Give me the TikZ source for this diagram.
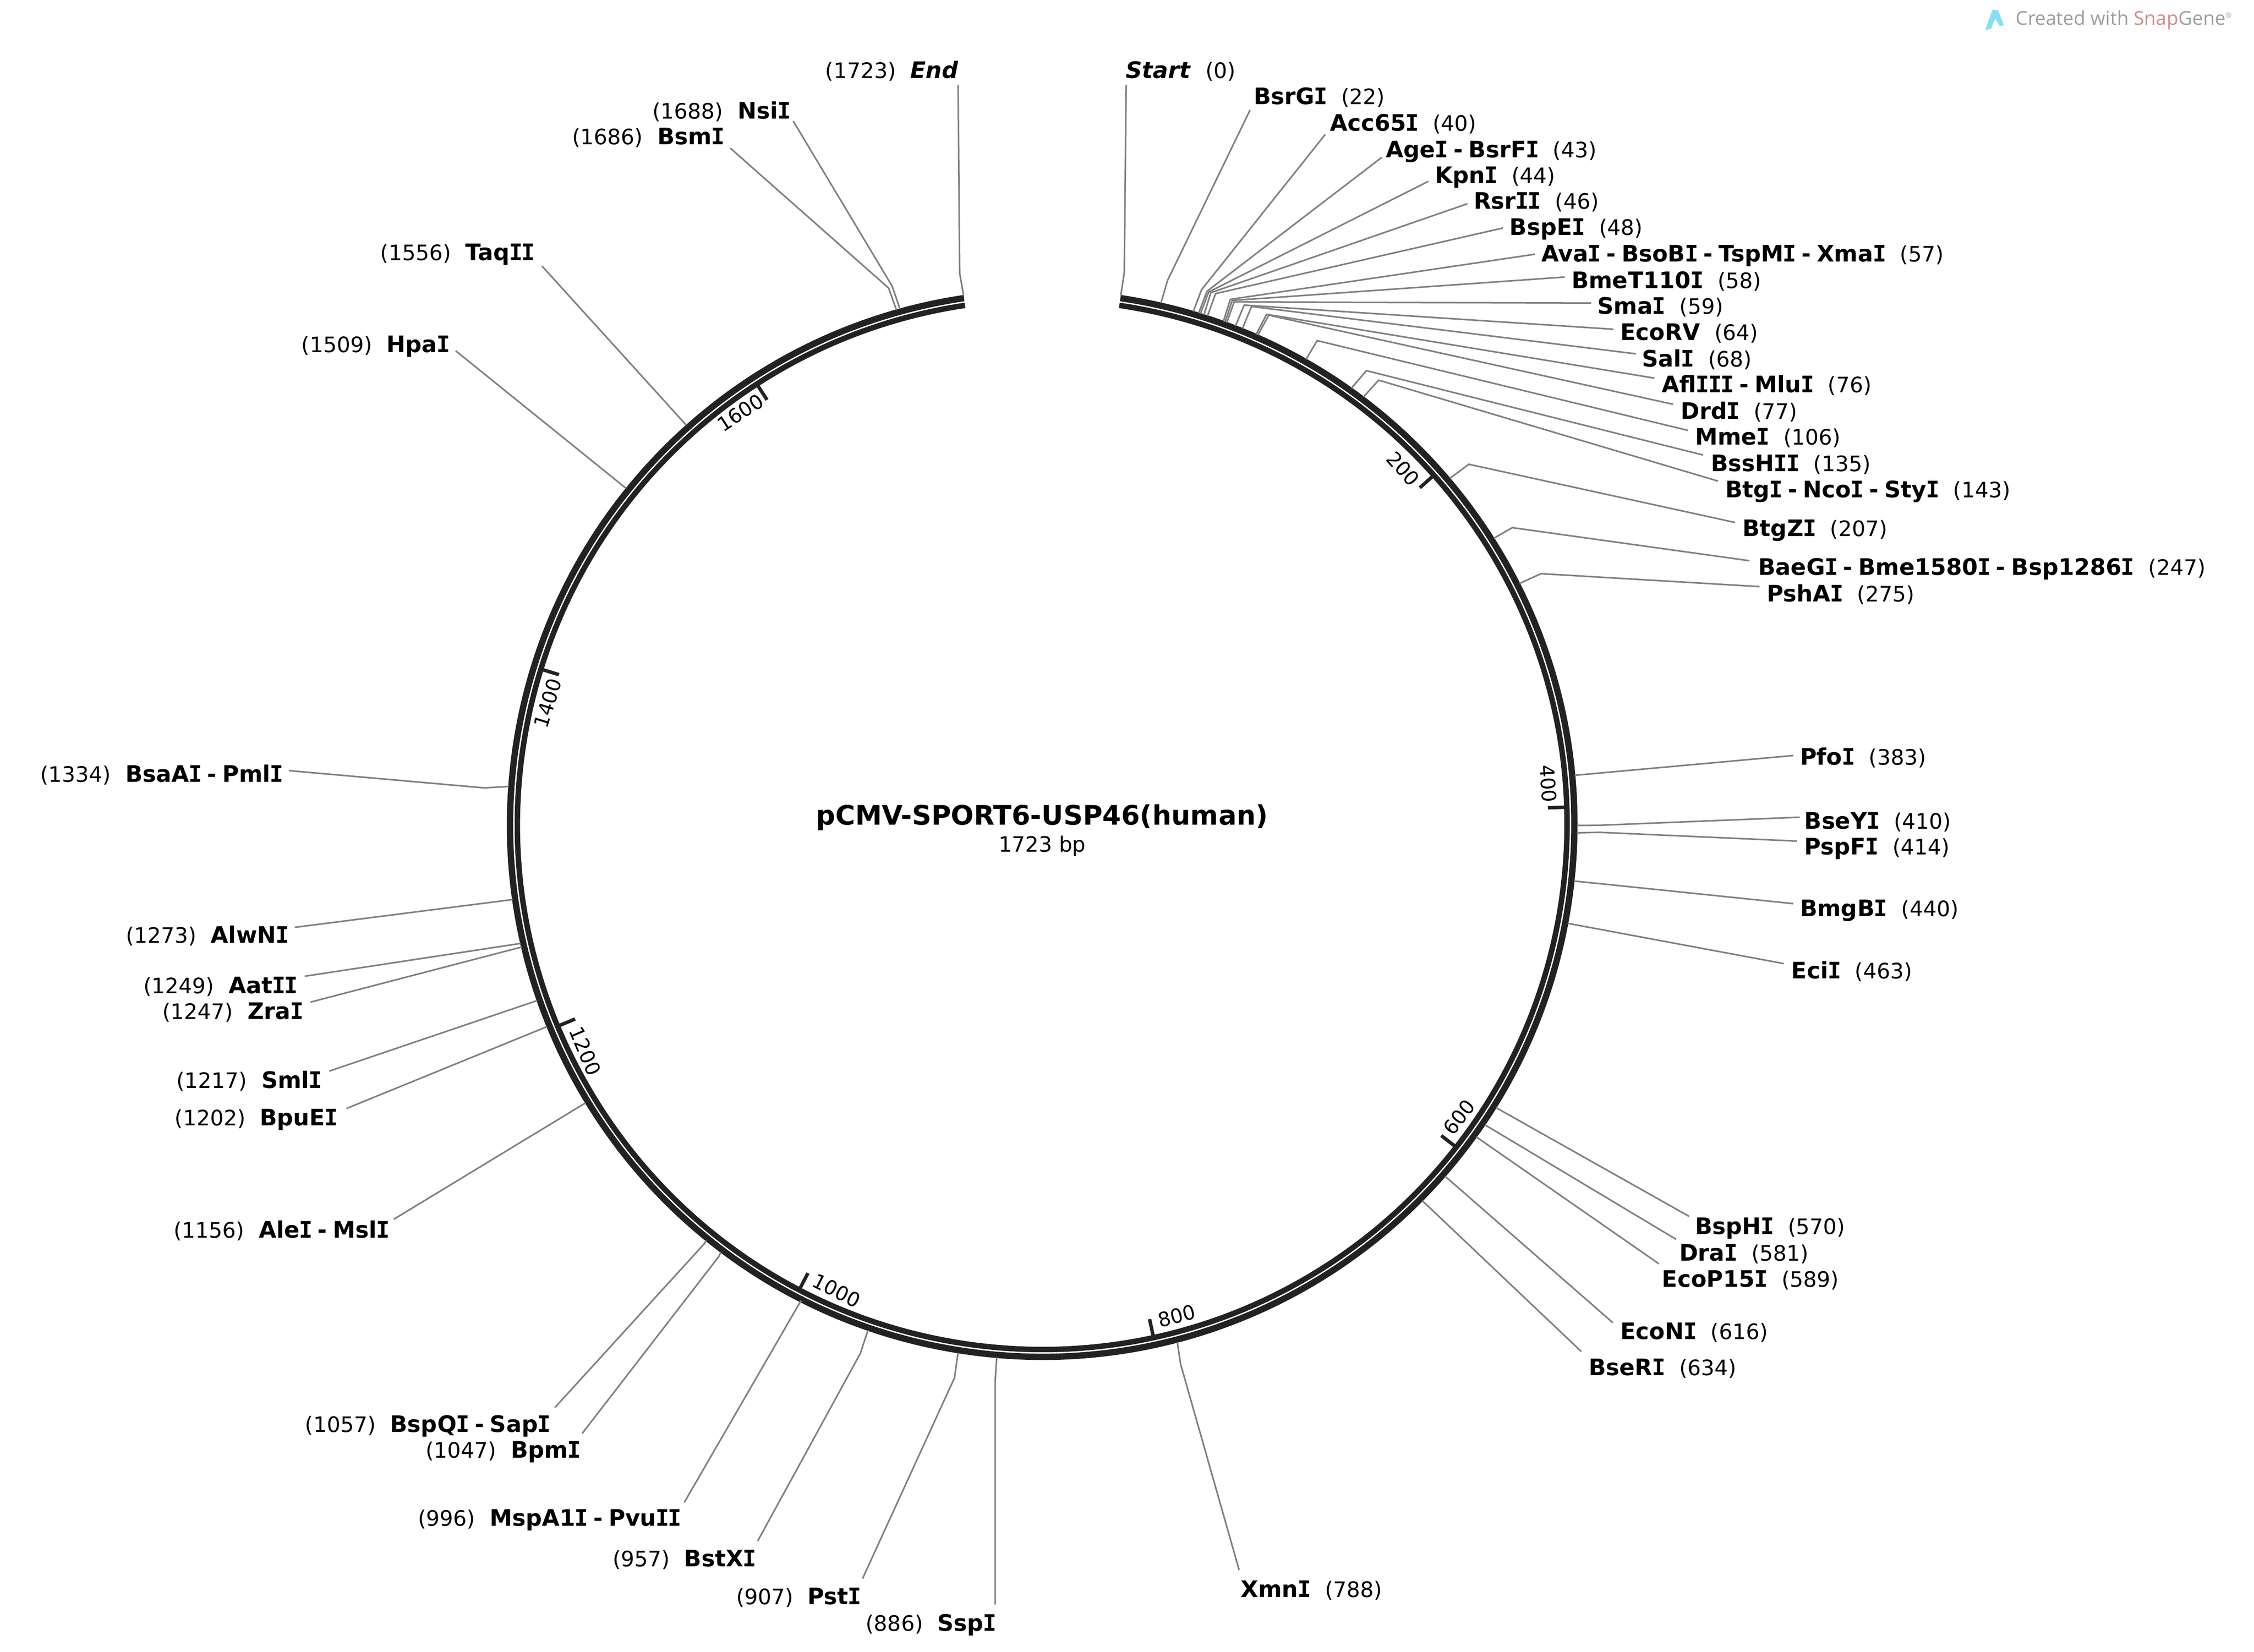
\documentclass[tikz,border=0pt]{standalone}
\usepackage{fontspec}
\setmainfont{DejaVu Sans}
\newfontfamily\wmfont{Open Sans}
\newfontfamily\vIfam{DejaVu Sans Mono}
\newcommand\vI{\kern-0.028em{\vIfam I}\kern-0.028em}
\definecolor{ringc}{HTML}{222222}
\definecolor{leadc}{HTML}{808080}
\definecolor{logoc}{HTML}{86E0F2}
\newcommand\cxv{725}
\newcommand\cyv{573.5}
\newcommand\azero{81.55}
\newcommand\perbp{0.19913}
\newcommand\rlab[2]{{\fontsize{15.8}{18}\selectfont\bfseries\spaceskip=4pt\relax #1}\hspace{10pt}{\fontsize{14.8}{18}\selectfont (#2)}}
\newcommand\llab[2]{{\fontsize{14.8}{18}\selectfont (#1)}\hspace{10pt}{\fontsize{15.8}{18}\selectfont\bfseries\spaceskip=4pt\relax #2}}
\newcommand\enz[7]{%
  \pgfmathsetmacro\enzang{\azero-#3*\perbp}
  \node[lab,anchor=#1] (#2) at #4 {#5};
  \coordinate (#2r) at ({\cxv+372*cos(\enzang)},{\cyv-372*sin(\enzang)});
  \coordinate (#2e) at #6;
  \coordinate (#2f) at #7;
  \draw[lead] (#2r) -- (#2e) -- (#2f);
}
\newcommand\tick[5]{%
  \pgfmathsetmacro\enzang{\azero-#1*\perbp}
  \coordinate (t#1a) at ({\cxv+364*cos(\enzang)},{\cyv-364*sin(\enzang)});
  \coordinate (t#1b) at ({\cxv+352*cos(\enzang)},{\cyv-352*sin(\enzang)});
  \draw[tickl] (t#1a) -- (t#1b);
  \node[tickt,rotate=#5] (n#1) at (#3,#4) {#2};
}
\tikzset{
  lab/.style={inner sep=0pt,yshift=-5.5pt,text=black},
  lead/.style={draw=leadc,line width=1.1pt,line join=round},
  ringo/.style={draw=ringc,line width=4.4pt},
  ringi/.style={draw=ringc,line width=3.8pt},
  tickl/.style={draw=ringc,line width=2.4pt},
  tickt/.style={inner sep=0pt,font=\fontsize{13.8}{16}\selectfont,text=black}
}
\begin{document}
\begin{tikzpicture}[x=1pt,y=-1pt]
\useasboundingbox (0,0) rectangle (1568,1149);
\fill[white] (0,0) rectangle (1568,1149);
% ring
\pgfmathsetmacro\azend{\azero-1723*\perbp}
\draw[ringo] ({\cxv+370.2*cos(\azero)},{\cyv-370.2*sin(\azero)}) arc[start angle=\azero,end angle=\azend,radius=370.2pt];
\draw[ringi] ({\cxv+365.1*cos(\azero)},{\cyv-365.1*sin(\azero)}) arc[start angle=\azero,end angle=\azend,radius=365.1pt];
% centre
\node[inner sep=0pt,font=\fontsize{18.7}{20}\selectfont\bfseries] (title) at (725,568.5) {pCMV-SPORT6-USP46(human)};
\node[inner sep=0pt,font=\fontsize{14.7}{16}\selectfont] (size) at (725,588.5) {1723 bp};
% ticks
\tick{200}{200}{976}{326}{-48}
\tick{400}{400}{1077}{545}{-86}
\tick{600}{600}{1015}{777}{52}
\tick{800}{800}{818.5}{915.3}{14}
\tick{1000}{1000}{582}{897.6}{-27}
\tick{1200}{1200}{407}{731}{-67}
\tick{1400}{1400}{381}{489}{73}
\tick{1600}{1600}{515}{287}{33}
% right side
\enz{base west}{start}{0}{(783,49)}{\rlab{\textit{Start}}{0}}{(782.1,189.7)}{(783.4,59.2)}
\enz{base west}{bsrgi}{22}{(872,67)}{\rlab{BsrG\vI}{22}}{(812.2,195)}{(869.6,76.5)}
\enz{base west}{acc}{40}{(925,85.5)}{\rlab{Acc65\vI}{40}}{(835.8,201.6)}{(921.9,93.5)}
\enz{base west}{age}{43}{(964,104)}{\rlab{Age\vI{} - BsrF\vI}{43}}{(839.6,202.6)}{(961.3,109.4)}
\enz{base west}{kpn}{44}{(998,122)}{\rlab{Kpn\vI}{44}}{(840.8,203.1)}{(993.7,126.1)}
\enz{base west}{rsr}{46}{(1025,140)}{\rlab{Rsr\vI\vI}{46}}{(842.3,203.6)}{(1020.8,141.7)}
\enz{base west}{bspe}{48}{(1050,158)}{\rlab{BspE\vI}{48}}{(845.6,204.2)}{(1045.5,158.6)}
\enz{base west}{ava}{57}{(1072,176.5)}{\rlab{Ava\vI{} - BsoB\vI{} - TspM\vI{} - Xma\vI}{57}}{(855.9,208.2)}{(1067.9,176.8)}
\enz{base west}{bme}{58}{(1093,195)}{\rlab{BmeT110\vI}{58}}{(857.2,209)}{(1088.5,192.7)}
\enz{base west}{sma}{59}{(1111,213)}{\rlab{Sma\vI}{59}}{(858.5,210)}{(1106.9,210.8)}
\enz{base west}{ecorv}{64}{(1127,231)}{\rlab{EcoRV}{64}}{(865.5,212.2)}{(1122.4,229)}
\enz{base west}{sal}{68}{(1142,249.5)}{\rlab{Sal\vI}{68}}{(870.6,213.2)}{(1138.1,246.1)}
\enz{base west}{afl}{76}{(1156,267.5)}{\rlab{Afl\vI\vI\vI{} - Mlu\vI}{76}}{(881.1,218.6)}{(1150.9,263)}
\enz{base west}{drd}{77}{(1169,286)}{\rlab{Drd\vI}{77}}{(882.6,219.2)}{(1163.9,281.2)}
\enz{base west}{mme}{106}{(1179,304)}{\rlab{Mme\vI}{106}}{(916.3,236.9)}{(1174.4,299.4)}
\enz{base west}{bss}{135}{(1190,322.5)}{\rlab{BssH\vI\vI}{135}}{(950.5,257.8)}{(1184.8,316.5)}
\enz{base west}{btg}{143}{(1200,340.5)}{\rlab{Btg\vI{} - Nco\vI{} - Sty\vI}{143}}{(959,264.4)}{(1195.1,334.6)}
\enz{base west}{btgz}{207}{(1212,367.5)}{\rlab{BtgZ\vI}{207}}{(1021.8,322.9)}{(1207,363.4)}
\enz{base west}{bae}{247}{(1223,394.5)}{\rlab{BaeG\vI{} - Bme1580\vI{} - Bsp1286\vI}{247}}{(1052,367)}{(1217,390)}
\enz{base west}{psh}{275}{(1229,413)}{\rlab{PshA\vI}{275}}{(1072,399)}{(1224,408)}
\enz{base west}{pfo}{383}{(1252,526.5)}{\rlab{Pfo\vI}{383}}{(pfor)}{(1247.4,525.5)}
\enz{base west}{bsey}{410}{(1255,571)}{\rlab{BseY\vI}{410}}{(1112.7,574)}{(1252,568.4)}
\enz{base west}{psp}{414}{(1255,589)}{\rlab{PspF\vI}{414}}{(1112.7,578.9)}{(1250,585)}
\enz{base west}{bmg}{440}{(1252,632)}{\rlab{BmgB\vI}{440}}{(1111.9,614.5)}{(1247.4,628.5)}
\enz{base west}{eci}{463}{(1246,675)}{\rlab{Eci\vI}{463}}{(ecir)}{(1240.8,670.2)}
\enz{base west}{bsph}{570}{(1179,853)}{\rlab{BspH\vI}{570}}{(bsphr)}{(1175,846)}
\enz{base west}{dra}{581}{(1168,871.5)}{\rlab{Dra\vI}{581}}{(drar)}{(1166,862)}
\enz{base west}{ecop}{589}{(1156,889.5)}{\rlab{EcoP15\vI}{589}}{(ecopr)}{(1154,879)}
\enz{base west}{econ}{616}{(1127,926)}{\rlab{EcoN\vI}{616}}{(econr)}{(1122,920)}
\enz{base west}{bser}{634}{(1105,951)}{\rlab{BseR\vI}{634}}{(bserr)}{(1100,940)}
\enz{base west}{xmn}{788}{(863,1105.5)}{\rlab{Xmn\vI}{788}}{(821.2,948.5)}{(862,1092)}
% left side
\enz{base east}{ssp}{886}{(693,1129)}{\llab{886}{Ssp\vI}}{(692.3,960.4)}{(692.3,1116)}
\enz{base east}{pst}{907}{(599,1110.5)}{\llab{907}{Pst\vI}}{(664,958.3)}{(600,1098)}
\enz{base east}{bstx}{957}{(526,1084)}{\llab{957}{BstX\vI}}{(598.5,941.3)}{(527,1072)}
\enz{base east}{msp}{996}{(474,1056)}{\llab{996}{MspA1\vI{} - Pvu\vI\vI}}{(557,905)}{(476,1045)}
\enz{base east}{bpm}{1047}{(404,1008.5)}{\llab{1047}{Bpm\vI}}{(500,874)}{(405,997)}
\enz{base east}{bspq}{1057}{(383,990.5)}{\llab{1057}{BspQ\vI{} - Sap\vI}}{(490,865)}{(386,979)}
\enz{base east}{ale}{1156}{(271,855.5)}{\llab{1156}{Ale\vI{} - Msl\vI}}{(aler)}{(274,848)}
\enz{base east}{bpue}{1202}{(235,777.5)}{\llab{1202}{BpuE\vI}}{(bpuer)}{(241,771)}
\enz{base east}{sml}{1217}{(224,751.5)}{\llab{1217}{Sml\vI}}{(smlr)}{(229,745)}
\enz{base east}{zra}{1247}{(211,703.5)}{\llab{1247}{Zra\vI}}{(zrar)}{(216,697)}
\enz{base east}{aat}{1249}{(207,685.5)}{\llab{1249}{Aat\vI\vI}}{(aatr)}{(212,679)}
\enz{base east}{alw}{1273}{(201,650.5)}{\llab{1273}{AlwN\vI}}{(alwr)}{(205,645)}
\enz{base east}{bsaa}{1334}{(197,538.5)}{\llab{1334}{BsaA\vI{} - Pml\vI}}{(337,548)}{(201,536)}
\enz{base east}{hpa}{1509}{(313,239.5)}{\llab{1509}{Hpa\vI}}{(hpar)}{(317,244)}
\enz{base east}{taq}{1556}{(372,175.5)}{\llab{1556}{Taq\vI\vI}}{(taqr)}{(377,185)}
\enz{base east}{bsm}{1686}{(504,95)}{\llab{1686}{Bsm\vI}}{(618.2,200.4)}{(508,103)}
\enz{base east}{nsi}{1688}{(550,77)}{\llab{1688}{Nsi\vI}}{(620.6,199)}{(551.8,84.2)}
\enz{base east}{endl}{1723}{(667,49)}{\llab{1723}{\textit{End}}}{(667.6,190.1)}{(666.5,59.2)}
% watermark
\fill[logoc] (1381,21) -- (1386,7) -- (1390,7) -- (1394,18) -- (1391,18) -- (1388,13) -- (1385,20) -- cycle;
\node[inner sep=0pt,anchor=base west,yshift=-4.5pt,font=\wmfont\fontsize{13.3}{14}\selectfont,text=black!38] (wm) at (1402,13)
  {Created with \textcolor{red!60!black!45}{Snap}Gene\textsuperscript{\tiny ®}};
\end{tikzpicture}
\end{document}
